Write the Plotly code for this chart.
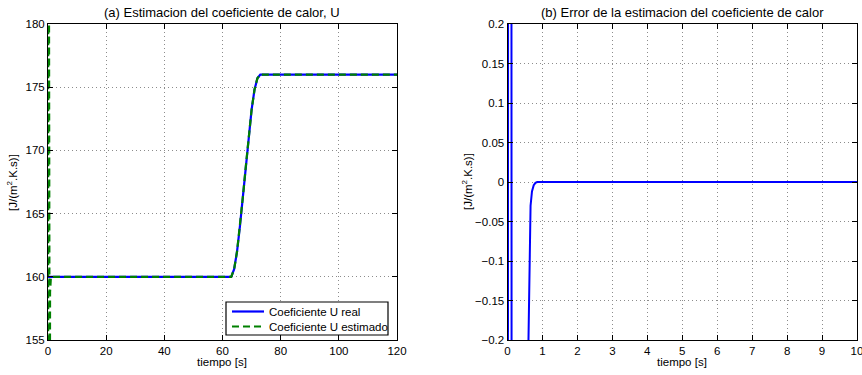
import plotly.graph_objects as go

# ---- data ----
t_real = [0, 63, 64, 65, 66, 67, 68, 69, 70, 71, 72, 73, 120]
u_real = [160, 160, 160.6, 162.0, 164.0, 166.3, 168.7, 171.1, 173.2, 174.8, 175.7, 176.0, 176.0]

t_est = [0, 0.015, 0.03, 0.1, 0.115, 0.13, 0.5, 0.6, 0.7, 0.8, 1.0,
         63, 64, 65, 66, 67, 68, 69, 70, 71, 72, 73, 120]
u_est = [100, 160, 220, 220, 160, 100, 100, 140, 158.8, 159.9, 160,
         160, 160.6, 162.0, 164.0, 166.3, 168.7, 171.1, 173.2, 174.8, 175.7, 176.0, 176.0]

t_err = [0, 0.015, 0.03, 0.1, 0.115, 0.13, 0.5, 0.58, 0.6, 0.62, 0.64, 0.66, 0.7, 0.75, 0.8, 0.85, 10]
e_err = [-2, 0, 2, 2, 0, -2, -2, -0.9, -0.2, -0.12, -0.06, -0.03, -0.012, -0.004, -0.001, 0, 0]

legend_names = ["Coeficiente U real", "Coeficiente U estimado"]
left_title = "(a) Estimacion del coeficiente de calor, U"
right_title = "(b) Error de la estimacion del coeficiente de calor"
x_label = "tiempo [s]"
y_label = "[J/(m<sup>2</sup>.K.s)]"

FONT = "Liberation Sans, Arial, sans-serif"
W, H = 862, 375
BLUE = "rgb(0,0,255)"
GREEN = "rgb(0,128,0)"
GREEN_DASH = "7px,4px"


def px(x):
    return x / W


def py(y):
    return 1 - y / H


fig = go.Figure()
fig.add_trace(go.Scatter(x=t_real, y=u_real, mode="lines", name=legend_names[0], showlegend=False,
                         line=dict(color=BLUE, width=2.2), xaxis="x", yaxis="y"))
fig.add_trace(go.Scatter(x=t_est, y=u_est, mode="lines", name=legend_names[1], showlegend=False,
                         line=dict(color=GREEN, width=2.2, dash=GREEN_DASH), xaxis="x", yaxis="y"))
fig.add_trace(go.Scatter(x=t_err, y=e_err, mode="lines", showlegend=False,
                         line=dict(color=BLUE, width=2), xaxis="x2", yaxis="y2"))

ax_common = dict(showline=True, linecolor="black", linewidth=1, mirror="ticks",
                 ticks="inside", ticklen=5, tickcolor="black", automargin=False,
                 ticklabeloverflow="allow",
                 showgrid=True, gridcolor="rgb(140,140,140)", griddash="1px,3px", gridwidth=1,
                 zeroline=False, tickfont=dict(size=11.5, color="black", family=FONT))

fig.update_layout(
    template="none",
    width=W, height=H,
    margin=dict(l=0, r=0, t=0, b=0),
    paper_bgcolor="white", plot_bgcolor="white",
    font=dict(family=FONT, size=11.5, color="black"),
    xaxis=dict(domain=[px(48), px(397)], range=[0, 120], dtick=20, anchor="y", **ax_common),
    yaxis=dict(domain=[py(340), py(24)], range=[155, 180], dtick=5, anchor="x", **ax_common),
    xaxis2=dict(domain=[px(507.5), px(857)], range=[0, 10], dtick=1, anchor="y2", **ax_common),
    yaxis2=dict(domain=[py(340), py(24)], range=[-0.2, 0.2], dtick=0.05, anchor="x2", **ax_common),
    showlegend=False,
)

# compact MATLAB-style legend box
fig.add_shape(type="rect", xref="paper", yref="paper",
              x0=px(226), x1=px(388), y0=py(335), y1=py(302),
              line=dict(color="black", width=1.2), fillcolor="white", layer="above")
fig.add_shape(type="line", xref="paper", yref="paper",
              x0=px(232), x1=px(264), y0=py(311.5), y1=py(311.5),
              line=dict(color=BLUE, width=2.2), layer="above")
fig.add_shape(type="line", xref="paper", yref="paper",
              x0=px(232), x1=px(264), y0=py(326.5), y1=py(326.5),
              line=dict(color=GREEN, width=2.2, dash=GREEN_DASH), layer="above")
for name, yy in zip(legend_names, [311.5, 326.5]):
    fig.add_annotation(xref="paper", yref="paper", showarrow=False, x=px(267), y=py(yy),
                       xanchor="left", yanchor="middle", text=name,
                       font=dict(size=11.5, family=FONT, color="black"))

annos = [
    dict(text=left_title, x=222, y=12, size=13),
    dict(text=right_title, x=682, y=12, size=13),
    dict(text=x_label, x=222, y=362, size=11.5),
    dict(text=x_label, x=682, y=362, size=11.5),
    dict(text=y_label, x=12, y=183, size=11.5, textangle=-90),
    dict(text=y_label, x=467, y=182, size=11.5, textangle=-90),
]
for a in annos:
    size = a.pop("size")
    a["x"] = px(a["x"])
    a["y"] = py(a["y"])
    fig.add_annotation(xref="paper", yref="paper", showarrow=False,
                       xanchor="center", yanchor="middle",
                       font=dict(size=size, family=FONT, color="black"), **a)

fig.write_html("out.html", config={"displayModeBar": False},
               post_script="document.body.style.margin='0';document.body.style.padding='0';")
